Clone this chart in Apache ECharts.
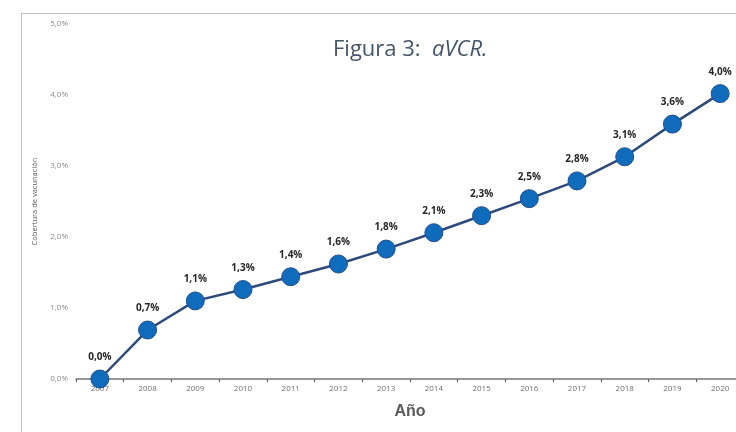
<!DOCTYPE html>
<html>
<head>
<meta charset="utf-8">
<script src="https://cdn.jsdelivr.net/npm/echarts@6/dist/echarts.min.js"></script>
<style>
html, body { margin: 0; padding: 0; background: #fff; }
#chart { width: 736px; height: 432px; }
</style>
</head>
<body>
<div id="chart"></div>
<script>
var years = ["2007", "2008", "2009", "2010", "2011", "2012", "2013", "2014", "2015", "2016", "2017", "2018", "2019", "2020"];
var coverage = [0.0, 0.69, 1.1, 1.26, 1.44, 1.62, 1.83, 2.06, 2.3, 2.54, 2.79, 3.13, 3.59, 4.02];
var yTicks = [0, 1, 2, 3, 4, 5];

function pct(v) {
    return v.toFixed(1).replace('.', ',') + '%';
}

var myChart = echarts.init(document.getElementById('chart'));
var option = {
    animation: false,
    backgroundColor: '#fff',
    title: {
        text: '{n|Figura 3:  }{i|aVCR.}',
        left: 328,
        top: 34,
        textStyle: {
            fontWeight: 'normal',
            rich: {
                n: { fontFamily: 'Open Sans', fontSize: 22, fontWeight: 'normal', color: '#44546A' },
                i: { fontFamily: 'Open Sans', fontSize: 22, fontWeight: 'normal', color: '#44546A', fontStyle: 'italic' }
            }
        }
    },
    graphic: [
        { type: 'line', shape: { x1: 21.5, y1: 13.5, x2: 736, y2: 13.5 }, style: { stroke: '#bfbfbf', lineWidth: 1 } },
        { type: 'line', shape: { x1: 21.5, y1: 13.5, x2: 21.5, y2: 432 }, style: { stroke: '#bfbfbf', lineWidth: 1 } }
    ],
    grid: { left: 76, width: 668, top: 24, bottom: 53, outerBoundsMode: 'none', containLabel: false },
    xAxis: {
        type: 'category',
        data: years,
        boundaryGap: true,
        name: 'Año',
        nameLocation: 'middle',
        nameGap: 25,
        nameTextStyle: { fontFamily: 'Liberation Sans', fontSize: 16, fontWeight: 'bold', color: '#595959' },
        axisLine: { lineStyle: { color: '#767676', width: 1.5 } },
        axisTick: { show: true, length: 3, lineStyle: { color: '#595959' } },
        axisLabel: { color: '#6f6f6f', fontSize: 8, fontFamily: 'Open Sans', margin: 6 },
        splitLine: { show: false }
    },
    yAxis: {
        type: 'value',
        min: yTicks[0],
        max: yTicks[yTicks.length - 1],
        interval: 1,
        name: 'Cobertura de vacunación',
        nameLocation: 'middle',
        nameGap: 33,
        nameRotate: 90,
        nameTextStyle: { fontFamily: 'Open Sans', fontSize: 7.5, color: '#595959' },
        axisLine: { show: false },
        axisTick: { show: false },
        splitLine: { show: false },
        axisLabel: {
            color: '#8c8c8c', fontSize: 8, fontFamily: 'Open Sans', margin: 8,
            formatter: function (v) { return pct(v); }
        }
    },
    series: [{
        type: 'line',
        data: coverage,
        symbol: 'circle',
        symbolSize: 18,
        lineStyle: { color: '#2E4A7D', width: 2.5 },
        itemStyle: { color: '#0F6CBD', borderColor: '#1f4e8c', borderWidth: 1 },
        label: {
            show: true,
            position: 'top',
            distance: 7,
            fontFamily: 'Open Sans',
            fontWeight: 'bold',
            fontSize: 10,
            color: '#262626',
            formatter: function (p) { return pct(p.value); }
        }
    }]
};
myChart.setOption(option);
</script>
</body>
</html>
